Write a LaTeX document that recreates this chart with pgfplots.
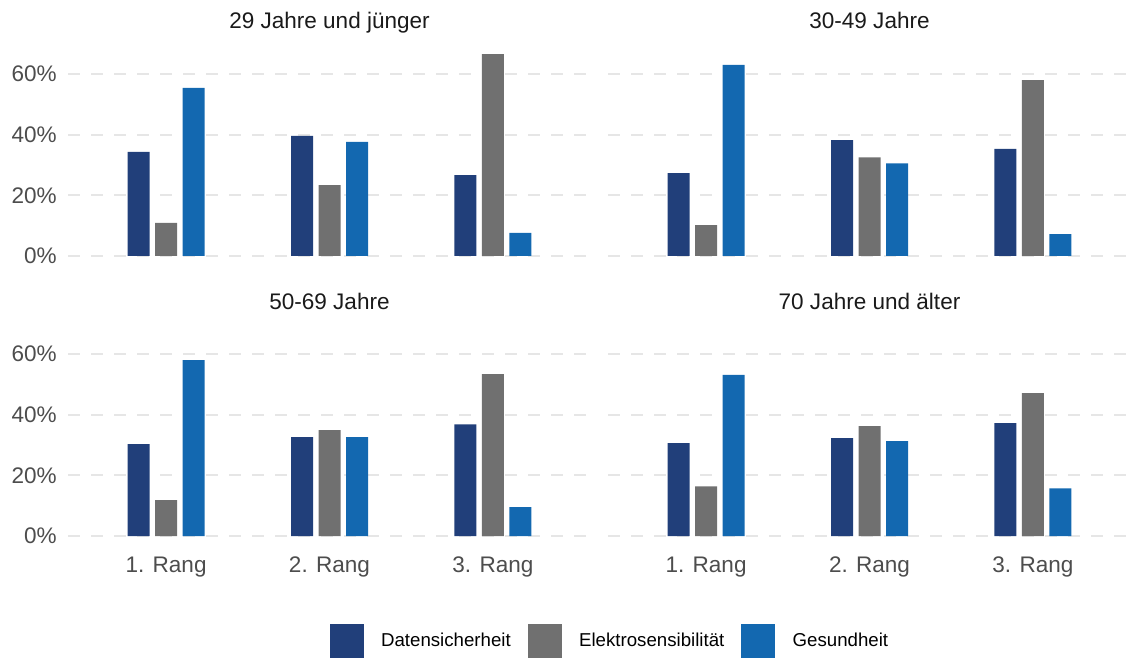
\documentclass[border=0pt]{standalone}
\usepackage{pgfplots}
\pgfplotsset{compat=1.18}
\usepackage{pgfplotstable}
\usepackage{fontspec}
\setmainfont{Liberation Sans}

\definecolor{cD}{HTML}{213F7A}
\definecolor{cE}{HTML}{707070}
\definecolor{cG}{HTML}{1368B0}
\definecolor{cGrid}{HTML}{E6E6E6}
\definecolor{cTick}{HTML}{4D4D4D}
\definecolor{cTitle}{HTML}{1A1A1A}

% x D E G
\pgfplotstableread{
x D E G
1 34.3 10.9 55.4
2 39.6 23.4 37.6
3 26.7 66.6 7.6
}\tabA
\pgfplotstableread{
x D E G
1 27.3 10.2 63.0
2 38.2 32.5 30.5
3 35.3 58.0 7.2
}\tabB
\pgfplotstableread{
x D E G
1 30.3 11.8 58.0
2 32.6 34.9 32.6
3 36.8 53.4 9.5
}\tabC
\pgfplotstableread{
x D E G
1 30.6 16.4 53.1
2 32.3 36.2 31.3
3 37.2 47.1 15.7
}\tabD

\pgfplotsset{
  facet/.style={
    anchor=south west,
    scale only axis,
    width=392.25pt, height=166.5pt,
    xmin=0.4, xmax=3.6, ymin=-3.3, ymax=69.9,
    ybar, bar width=16.5pt,
    axis line style={draw=none},
    major tick length=0pt,
    tick style={draw=none},
    xtick={1,2,3}, ytick={0,20,40,60},
    xticklabels={}, yticklabels={},
    ymajorgrids,
    major grid style={cGrid, line width=1.5pt, dash pattern=on 9pt off 8.25pt},
    tick label style={font=\fontsize{16.9}{19}\selectfont, text=cTick},
    yticklabel style={anchor=east, xshift=-5pt},
    xticklabel style={anchor=center, yshift=-15.75pt},
    title style={at={(0.5,1)}, anchor=base, yshift=5.25pt,
      font=\fontsize{16.9}{19}\selectfont, text=cTitle},
    clip=false,
  },
  barD/.style={fill=cD, draw=none, bar shift=-20.625pt},
  barE/.style={fill=cE, draw=none, bar shift=0pt},
  barG/.style={fill=cG, draw=none, bar shift=20.625pt},
}

\begin{document}
\begin{tikzpicture}
\useasboundingbox (0,0) rectangle (845.25pt,-492.75pt);

% Panel 1
\begin{axis}[facet, at={(51pt,-199.5pt)}, title={29 Jahre und jünger},
  yticklabels={0\%,20\%,40\%,60\%}]
\addplot[barD] table[x=x,y=D]{\tabA};
\addplot[barE] table[x=x,y=E]{\tabA};
\addplot[barG] table[x=x,y=G]{\tabA};
\end{axis}

% Panel 2
\begin{axis}[facet, at={(456pt,-199.5pt)}, title={30-49 Jahre}]
\addplot[barD] table[x=x,y=D]{\tabB};
\addplot[barE] table[x=x,y=E]{\tabB};
\addplot[barG] table[x=x,y=G]{\tabB};
\end{axis}

% Panel 3
\begin{axis}[facet, at={(51pt,-409.5pt)}, title={50-69 Jahre},
  yticklabels={0\%,20\%,40\%,60\%},
  xticklabels={1. Rang,2. Rang,3. Rang},
  legend columns=3,
  legend style={at={(1.0344,-0.428)}, anchor=center, draw=none, fill=none,
    font=\fontsize{14}{16}\selectfont,
    nodes={inner sep=0pt, anchor=west},
    /tikz/every odd column/.append style={column sep=13pt},
    /tikz/every even column/.append style={column sep=12.75pt}},
  legend image code/.code={\fill[#1] (0pt,-12.4pt) rectangle (25.5pt,12.4pt);},
]
\addplot[barD] table[x=x,y=D]{\tabC};
\addplot[barE] table[x=x,y=E]{\tabC};
\addplot[barG] table[x=x,y=G]{\tabC};
\legend{Datensicherheit,Elektrosensibilität,Gesundheit}
\end{axis}

% Panel 4
\begin{axis}[facet, at={(456pt,-409.5pt)}, title={70 Jahre und älter},
  xticklabels={1. Rang,2. Rang,3. Rang}]
\addplot[barD] table[x=x,y=D]{\tabD};
\addplot[barE] table[x=x,y=E]{\tabD};
\addplot[barG] table[x=x,y=G]{\tabD};
\end{axis}
\end{tikzpicture}
\end{document}
